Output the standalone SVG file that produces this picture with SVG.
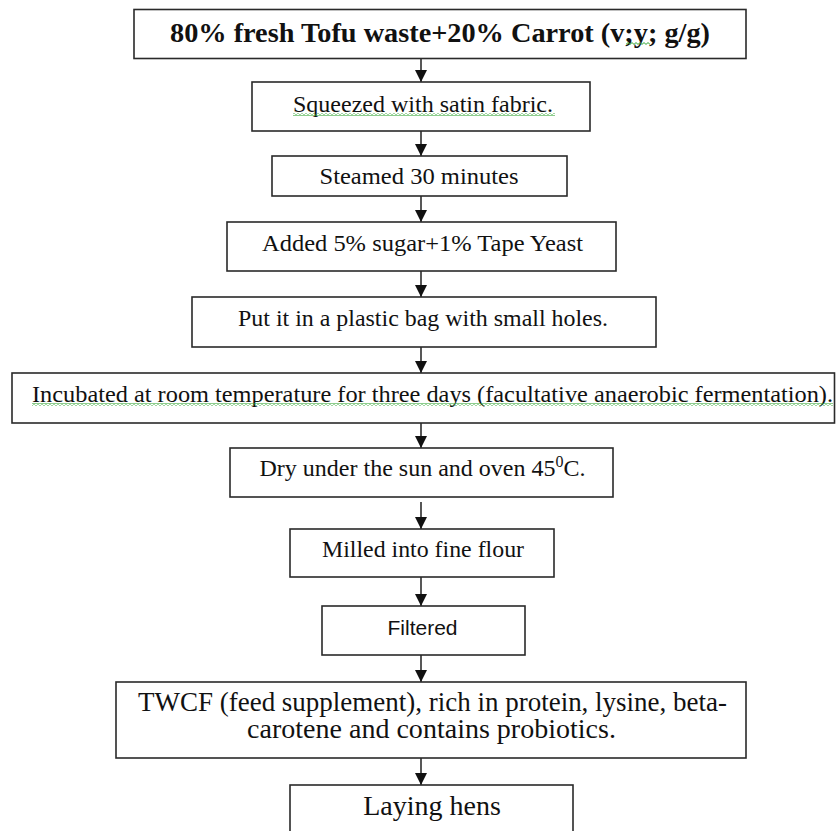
<svg xmlns="http://www.w3.org/2000/svg" width="836" height="831" viewBox="0 0 836 831">
<defs>
<style>
.box{fill:#fff;stroke:#2a2a2a;stroke-width:1.6}
.t{font-family:"Liberation Serif","Times New Roman",serif;fill:#111;text-anchor:middle}
.s{font-family:"Liberation Sans",Arial,sans-serif;fill:#111;text-anchor:middle}
.c{stroke:#111;stroke-width:1.4;fill:none;marker-end:url(#ah)}
.sq{fill:url(#wave)}
</style>
<marker id="ah" viewBox="0 0 12 12" markerWidth="12" markerHeight="12" refX="12" refY="6" orient="auto" markerUnits="userSpaceOnUse">
<path d="M0,0 L12,6 L0,12 z" fill="#111"/>
</marker>
<pattern id="wave" width="4" height="3" patternUnits="userSpaceOnUse">
<path d="M0,0.6 L2,2.4 L4,0.6" fill="none" stroke="#2fa52f" stroke-width="1"/>
</pattern>
</defs>
<rect width="836" height="831" fill="#fff"/>
<g id="connectors">
<line class="c" x1="421" y1="58.5" x2="421" y2="82"/>
<line class="c" x1="421" y1="131" x2="421" y2="156"/>
<line class="c" x1="421" y1="196" x2="421" y2="222"/>
<line class="c" x1="421" y1="271" x2="421" y2="297"/>
<line class="c" x1="421" y1="347" x2="421" y2="373"/>
<line class="c" x1="421" y1="423" x2="421" y2="448"/>
<line class="c" x1="421" y1="502" x2="421" y2="529"/>
<line class="c" x1="421" y1="577" x2="421" y2="606"/>
<line class="c" x1="421" y1="655" x2="421" y2="682"/>
<line class="c" x1="421" y1="758" x2="421" y2="785"/>
</g>
<g id="n1">
<rect class="box" x="134" y="9.5" width="612" height="49"/>
<text class="t" x="440" y="42" font-size="28" font-weight="bold" textLength="540" lengthAdjust="spacingAndGlyphs">80% fresh Tofu waste+20% Carrot (v;y; g/g)</text>
<rect class="sq" x="626" y="42" width="24" height="3"/>
</g>
<g id="n2">
<rect class="box" x="252" y="82" width="338" height="49"/>
<text class="t" x="423" y="112" font-size="24" textLength="260" lengthAdjust="spacingAndGlyphs">Squeezed with satin fabric.</text>
<rect class="sq" x="293" y="113" width="262" height="3"/>
</g>
<g id="n3">
<rect class="box" x="272" y="156" width="295" height="40"/>
<text class="t" x="419" y="184" font-size="24" textLength="199" lengthAdjust="spacingAndGlyphs">Steamed 30 minutes</text>
</g>
<g id="n4">
<rect class="box" x="227" y="222" width="389" height="49"/>
<text class="t" x="422.5" y="251" font-size="24" textLength="321" lengthAdjust="spacingAndGlyphs">Added 5% sugar+1% Tape Yeast</text>
</g>
<g id="n5">
<rect class="box" x="192" y="297" width="464" height="50"/>
<text class="t" x="423" y="326" font-size="24" textLength="370" lengthAdjust="spacingAndGlyphs">Put it in a plastic bag with small holes.</text>
</g>
<g id="n6">
<rect class="box" x="12" y="373" width="822.5" height="50"/>
<text class="t" x="432.5" y="402" font-size="24" textLength="801" lengthAdjust="spacingAndGlyphs">Incubated at room temperature for three days (facultative anaerobic fermentation).</text>
<rect class="sq" x="32" y="403" width="801" height="3"/>
</g>
<g id="n7">
<rect class="box" x="230" y="448" width="383" height="49"/>
<text class="t" x="422.5" y="476" font-size="24">Dry under the sun and oven 45<tspan font-size="16" dy="-9">0</tspan><tspan dy="9">C.</tspan></text>
</g>
<g id="n8">
<rect class="box" x="290" y="529" width="264" height="48"/>
<text class="t" x="423" y="557" font-size="24" textLength="202" lengthAdjust="spacingAndGlyphs">Milled into fine flour</text>
</g>
<g id="n9">
<rect class="box" x="322" y="606" width="203" height="49"/>
<text class="s" x="422.5" y="635" font-size="21">Filtered</text>
</g>
<g id="n10">
<rect class="box" x="116" y="682" width="630" height="76"/>
<text class="t" x="432.5" y="711" font-size="27" textLength="589" lengthAdjust="spacingAndGlyphs">TWCF (feed supplement), rich in protein, lysine, beta-</text>
<text class="t" x="431.5" y="738" font-size="27" textLength="369" lengthAdjust="spacingAndGlyphs">carotene and contains probiotics.</text>
</g>
<g id="n11">
<rect class="box" x="290" y="785" width="283" height="60"/>
<text class="t" x="432" y="815" font-size="28">Laying hens</text>
</g>
</svg>
